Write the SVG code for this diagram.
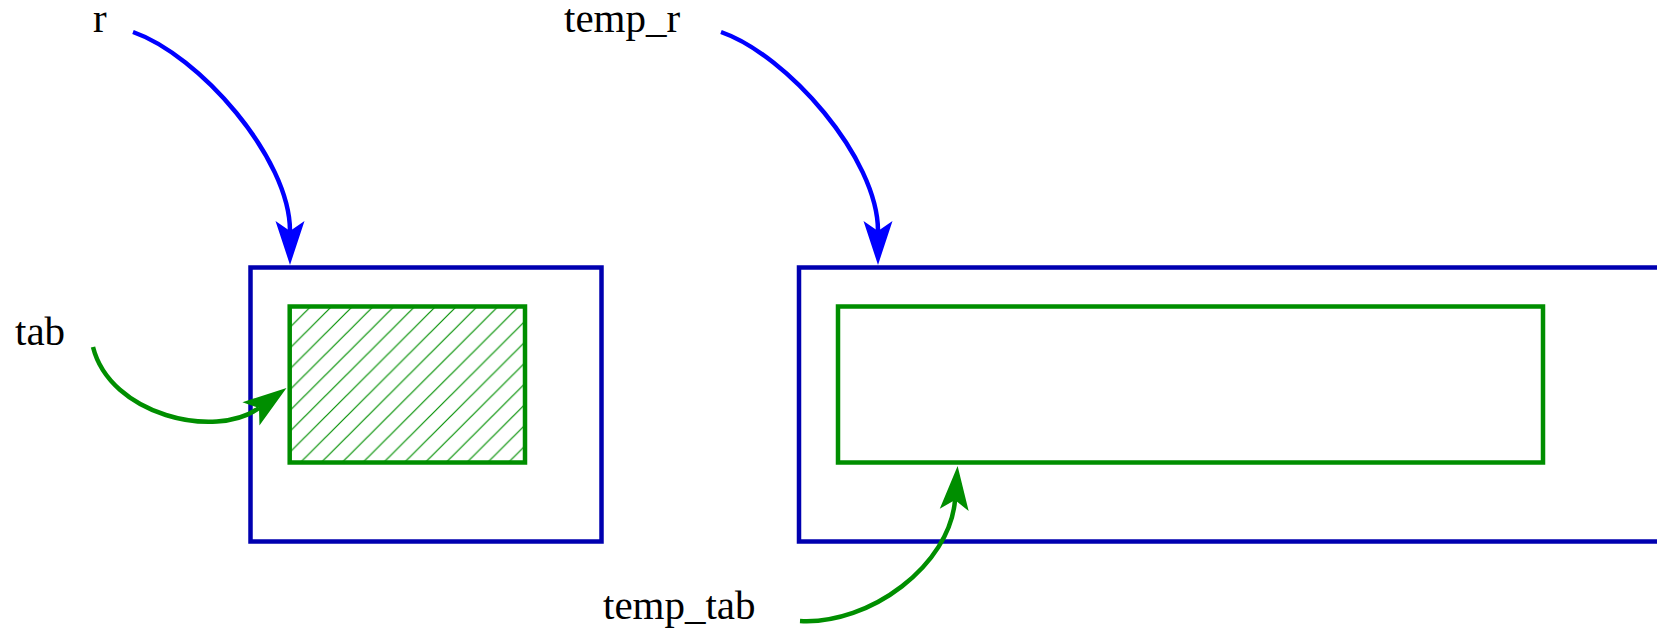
<svg xmlns="http://www.w3.org/2000/svg" width="1657" height="629" viewBox="0 0 1657 629">
<style>
.lbl{font-family:"Liberation Serif","Times New Roman",serif;font-size:41px;fill:#000}
.outer{fill:none;stroke:#0000b0;stroke-width:4.5}
.inner{fill:none;stroke:#008e00;stroke-width:4.5}
.cb{fill:none;stroke:#0000ff;stroke-width:4.5}
.cg{fill:none;stroke:#008e00;stroke-width:4.5}
</style>
<defs>
<marker id="ab" markerUnits="userSpaceOnUse" markerWidth="44" markerHeight="29" viewBox="0 0 44 29" refX="10" refY="14.5" orient="auto" overflow="visible">
<path d="M44,14.5 L0,0 L10,14.5 L0,29 Z" fill="#0000ff"/>
</marker>
<marker id="ag" markerUnits="userSpaceOnUse" markerWidth="44" markerHeight="29" viewBox="0 0 44 29" refX="10" refY="14.5" orient="auto" overflow="visible">
<path d="M44,14.5 L0,0 L10,14.5 L0,29 Z" fill="#008e00"/>
</marker>
<pattern id="hatch" patternUnits="userSpaceOnUse" x="14.1" y="0" width="20.8" height="20.8">
<path d="M-1,1 L1,-1 M0,20.8 L20.8,0 M19.8,21.8 L21.8,19.8" stroke="#008e00" stroke-width="1.2"/>
</pattern>
</defs>
<g id="node-r-box">
<rect class="outer" x="250.5" y="267.5" width="351" height="274"/>
</g>
<g id="node-tab-box">
<rect x="289.7" y="306.5" width="235.3" height="156" fill="url(#hatch)"/>
<rect class="inner" x="289.7" y="306.5" width="235.3" height="156"/>
</g>
<g id="node-temp-r-box">
<rect class="outer" x="799" y="267.5" width="900" height="274"/>
</g>
<g id="node-temp-tab-box">
<rect class="inner" x="838" y="306.5" width="705" height="156"/>
</g>
<g id="node-r-label"><text class="lbl" x="93" y="32">r</text></g>
<g id="node-temp-r-label"><text class="lbl" x="564" y="32">temp_r</text></g>
<g id="node-tab-label"><text class="lbl" x="15" y="345">tab</text></g>
<g id="node-temp-tab-label"><text class="lbl" x="603" y="619">temp_tab</text></g>
<g id="connectors">
<path class="cb" d="M133,32 C199,55 290,158 290,231" marker-end="url(#ab)"/>
<path class="cb" d="M721,32 C787,55 878,158 878,231" marker-end="url(#ab)"/>
<path class="cg" d="M93,347 C110,415 215,440 259,408" marker-end="url(#ag)"/>
<path class="cg" d="M800,621 C870,625 950,565 955,500" marker-end="url(#ag)"/>
</g>
</svg>
